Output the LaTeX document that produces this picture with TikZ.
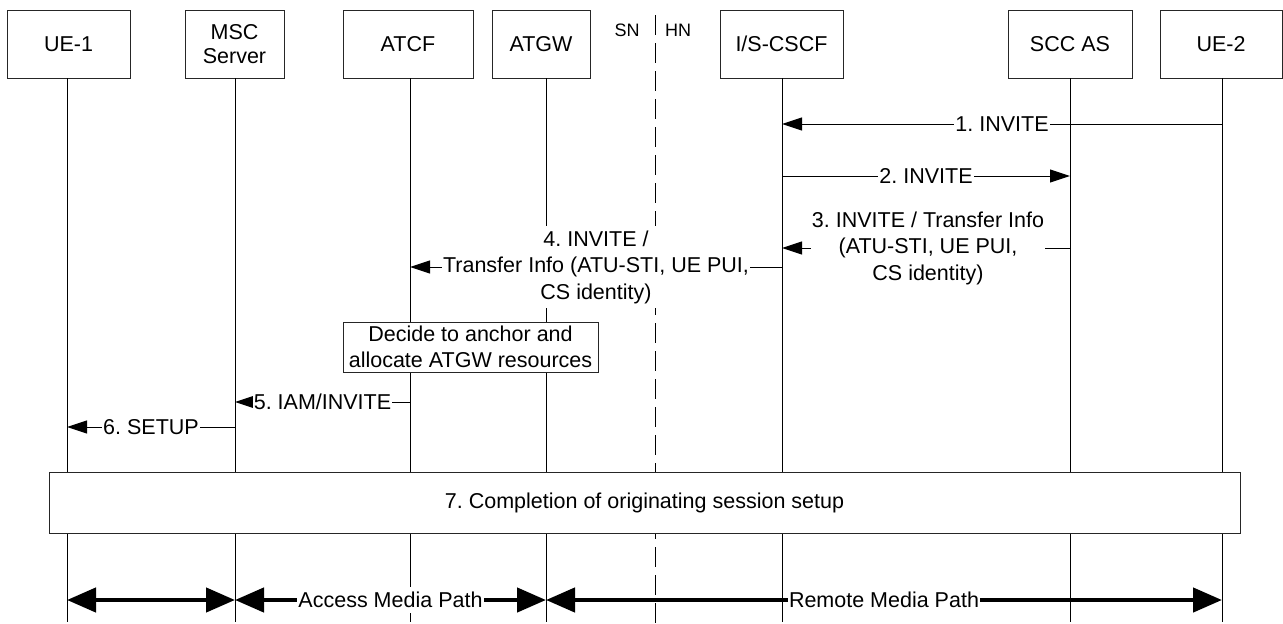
\documentclass[tikz,border=0pt]{standalone}
\usepackage{fontspec}
\setmainfont{Liberation Sans}
\usetikzlibrary{arrows.meta}
\frenchspacing
\begin{document}
\begin{tikzpicture}[x=1pt,y=-1pt,
  ent/.style={draw=black!85, line width=1pt, fill=white, minimum height=68pt, inner sep=0pt, align=center, font=\fontsize{21.5}{24.5}\selectfont},
  life/.style={line width=1pt},
  msg/.style={line width=1pt, -{Triangle[length=20pt,width=13pt]}},
  lbl/.style={fill=white, inner xsep=1pt, inner ysep=1pt, align=center, font=\fontsize{21.5}{26.5}\selectfont},
  media/.style={line width=4.5pt, {Triangle[length=29pt,width=24pt]}-{Triangle[length=29pt,width=24pt]}},
  stepbox/.style={draw=black!85, line width=1pt, fill=white, inner sep=0pt, align=center, font=\fontsize{21.5}{26}\selectfont}]
\useasboundingbox (0,0) rectangle (1283,624);
% entities
\node[ent, minimum width=123pt] (ue1) at (68.5,44) {UE-1};
\node[ent, minimum width=99pt] (msc) at (234.5,44) {MSC\\Server};
\node[ent, minimum width=130pt] (atcf) at (408,44) {ATCF};
\node[ent, minimum width=98pt] (atgw) at (541,44) {ATGW};
\node[ent, minimum width=123pt] (cscf) at (781.5,44) {I/S-CSCF};
\node[ent, minimum width=124pt] (scc) at (1070,44) {SCC AS};
\node[ent, minimum width=122pt] (ue2) at (1221,44) {UE-2};
% SN / HN
\node[font=\fontsize{18}{20}\selectfont, inner sep=0pt] (sn) at (627,30) {SN};
\node[font=\fontsize{18}{20}\selectfont, inner sep=0pt] (hn) at (678,30) {HN};
\coordinate (div) at (655,15);
\coordinate (divb) at (655,624);
\draw[line width=1pt, dash pattern=on 20pt off 8pt] (div) -- (divb);
% lifelines
\foreach \n/\x in {lue1/67, lmsc/235, latcf/410, latgw/546, lcscf/782, lscc/1070, lue2/1222} {
  \coordinate (\n) at (\x,78);
  \draw[life] (\n) -- (\x,622);
}
% messages
\draw[msg] (lue2 |- 0,124) -- (lcscf |- 0,124) node[lbl, midway] {1. INVITE};
\draw[msg] (lcscf |- 0,176) -- (lscc |- 0,176) node[lbl, midway] {2. INVITE};
\draw[msg] (lscc |- 0,248) -- (lcscf |- 0,248) node[lbl, midway, xshift=2pt] {3. INVITE / Transfer Info\\(ATU-STI, UE PUI,\\CS identity)};
\draw[msg] (lcscf |- 0,267) -- (latcf |- 0,267) node[lbl, midway, inner ysep=4pt] {4. INVITE /\\Transfer Info (ATU-STI, UE PUI,\\CS identity)};
\node[stepbox, minimum width=255pt, minimum height=50pt] (decide) at (470.5,347) {Decide to anchor and\\allocate ATGW resources};
\draw[msg] (latcf |- 0,402) -- (lmsc |- 0,402) node[lbl, midway] {5. IAM/INVITE};
\draw[msg] (lmsc |- 0,427) -- (lue1 |- 0,427) node[lbl, midway] {6. SETUP};
\node[stepbox, minimum width=1191pt, minimum height=61pt] (done) at (644.5,502.5) {7. Completion of originating session setup};
% media paths
\draw[media] (lue1 |- 0,600) -- (lmsc |- 0,600);
\draw[media] (lmsc |- 0,600) -- (latgw |- 0,600) node[lbl, midway, inner ysep=5pt] {Access Media Path};
\draw[media] (latgw |- 0,600) -- (lue2 |- 0,600) node[lbl, midway, inner ysep=1pt] {Remote Media Path};
\end{tikzpicture}
\end{document}
